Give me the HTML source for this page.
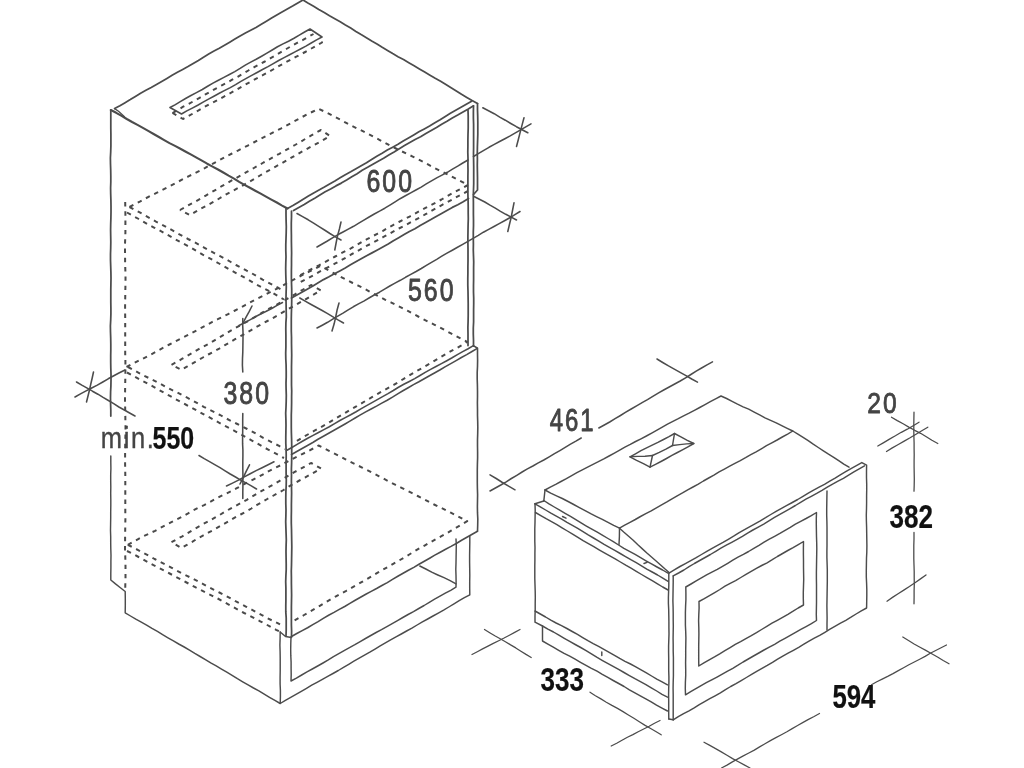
<!DOCTYPE html>
<html><head><meta charset="utf-8"><title>Installation dimensions</title>
<style>
html,body{margin:0;padding:0;background:#fff;}
body{width:1024px;height:768px;overflow:hidden;}
svg{display:block;}
.s{fill:none;stroke:#4c4c4c;stroke-width:1.6;stroke-linecap:round;stroke-linejoin:round;}
.d{fill:none;stroke:#4a4a4a;stroke-width:2.0;stroke-dasharray:4.4 4.9;stroke-linejoin:round;}
text{font-family:"Liberation Sans",sans-serif;}
</style></head><body>
<svg width="1024" height="768" viewBox="0 0 1024 768">
<defs>
<filter id="w" x="0" y="0" width="1024" height="768" filterUnits="userSpaceOnUse" color-interpolation-filters="sRGB">
<feGaussianBlur stdDeviation="0.42"/>
</filter>
<filter id="tb" x="0" y="0" width="1024" height="768" filterUnits="userSpaceOnUse" color-interpolation-filters="sRGB">
<feGaussianBlur stdDeviation="0.35"/>
</filter>
</defs>
<rect width="1024" height="768" fill="#fff"/>

<g filter="url(#w)">
<g class="d">
<path d="M172.5 113.0 L177.9 109.9 L183.2 106.7 L188.8 103.9 L194.2 100.8 L199.6 97.8 L205.0 94.7 L210.4 91.6 L215.8 88.6 L221.3 85.6 L226.8 82.8 L232.2 79.7 L237.7 76.8 L243.0 73.6 L248.4 70.5 L253.8 67.4 L259.3 64.4 L264.8 61.5 L270.2 58.4 L275.6 55.4 L280.9 52.1 L286.3 49.0 L291.7 45.9 L297.1 42.9 L302.6 40.1 L308.1 37.0 L313.5 34.0"/>
<path d="M172.5 113.0 L183.0 119.0 L188.4 116.1 L193.7 113.1 L199.0 110.1 L204.3 107.0 L209.6 104.1 L215.1 101.3 L220.5 98.5 L225.8 95.6 L231.2 92.7 L236.5 89.7 L241.8 86.6 L247.1 83.6 L252.5 80.7 L257.8 77.8 L263.2 74.9 L268.6 72.0 L273.9 69.0 L279.2 65.9 L284.5 63.0 L289.9 60.1 L295.3 57.2 L300.7 54.4 L306.1 51.5 L311.4 48.5 L316.7 45.5 L322.0 42.5 L322.0 37.0"/>
<path d="M125.2 202.0 L125.3 208.1 L125.4 214.2 L125.4 220.2 L125.4 226.3 L125.4 232.4 L125.2 238.5 L125.0 244.5 L125.0 250.6 L125.1 256.7 L125.1 262.8 L125.3 268.9 L125.5 274.9 L125.5 281.0 L125.4 287.1 L125.3 293.2 L125.2 299.2 L125.1 305.3 L125.1 311.4 L125.2 317.5 L125.2 323.6 L125.2 329.6 L125.2 335.7 L125.2 341.8 L125.2 347.9 L125.2 354.0 L125.4 360.0 L125.4 366.1 L125.4 372.2 L125.3 378.3 L125.2 384.3 L125.1 390.4 L125.0 396.5 L125.0 402.6 L125.2 408.7 L125.3 414.7 L125.4 420.8 L125.5 426.9 L125.5 433.0 L125.3 439.0 L125.2 445.1 L125.1 451.2 L125.1 457.3 L125.1 463.4 L125.2 469.4 L125.3 475.5 L125.3 481.6 L125.3 487.7 L125.3 493.8 L125.3 499.8 L125.3 505.9 L125.3 512.0 L125.4 518.1 L125.3 524.1 L125.2 530.2 L125.1 536.3 L125.1 542.4 L125.0 548.5 L125.2 554.5 L125.4 560.6 L125.5 566.7 L125.5 572.8 L125.5 578.8 L125.3 584.9 L125.2 591.0"/>
<path d="M129.5 207.0 L134.9 204.2 L140.3 201.4 L145.6 198.4 L151.0 195.6 L156.5 192.9 L161.9 190.1 L167.3 187.4 L172.7 184.6 L178.1 181.7 L183.5 178.9 L188.9 176.2 L194.3 173.4 L199.8 170.7 L205.2 167.9 L210.5 164.9 L215.9 162.1 L221.2 159.2 L226.6 156.2 L232.0 153.5 L237.5 150.8 L242.9 148.0 L248.3 145.3 L253.7 142.5 L259.1 139.6 L264.5 136.9 L269.9 134.1 L275.3 131.3 L280.8 128.6 L286.2 125.7 L291.5 122.8 L296.9 119.9 L302.2 117.0 L307.6 114.1 L313.1 111.5 L318.5 108.8 L324.1 111.4 L329.7 114.2 L335.2 117.1 L340.7 119.9 L346.2 122.9 L351.7 125.8 L357.3 128.5 L362.8 131.2 L368.4 134.1 L373.9 137.0 L379.4 139.8 L384.9 142.8 L390.3 145.7 L395.9 148.5 L401.5 151.2 L407.1 153.9 L412.7 156.6 L418.3 159.4 L423.8 162.2 L429.3 165.2 L434.7 168.1 L440.3 170.9 L445.9 173.6 L451.4 176.4 L457.0 179.3 L462.5 182.1 L468.0 185.0"/>
<path d="M129.5 207.0 L134.9 209.8 L140.2 212.7 L145.5 215.7 L150.8 218.7 L156.0 221.6 L161.5 224.4 L166.8 227.2 L172.1 230.2 L177.4 233.2 L182.7 236.1 L188.0 239.0 L193.5 241.7 L198.8 244.6 L204.1 247.6 L209.4 250.5 L214.7 253.3 L220.1 256.1 L225.5 258.9 L230.8 262.0 L236.0 265.0 L241.4 267.8 L246.7 270.7 L252.1 273.5 L257.4 276.5 L262.6 279.6 L267.9 282.5 L273.3 285.3 L278.7 288.1 L284.0 291.0"/>
<path d="M127.0 212.5 L132.4 215.5 L137.8 218.5 L143.2 221.6 L148.6 224.7 L154.0 227.6 L159.5 230.4 L165.0 233.4 L170.3 236.4 L175.7 239.5 L181.2 242.4 L186.6 245.3 L192.1 248.3 L197.4 251.4 L202.7 254.6 L208.2 257.5 L213.7 260.4 L219.0 263.5 L224.4 266.6 L229.8 269.7 L235.2 272.6 L240.7 275.5 L246.1 278.5 L251.5 281.6 L256.8 284.7 L262.3 287.5 L267.8 290.4 L273.3 293.3 L278.6 296.5 L284.0 299.5"/>
<path d="M468.0 185.0 L462.7 187.9 L457.3 190.7 L452.0 193.4 L446.7 196.4 L441.5 199.5 L436.2 202.4 L430.9 205.1 L425.5 207.9 L420.2 210.7 L414.9 213.7 L409.6 216.6 L404.2 219.3 L398.9 222.0 L393.5 224.8 L388.2 227.7 L383.0 230.8 L377.7 233.6 L372.3 236.4 L367.0 239.2 L361.7 242.1 L356.5 245.2 L351.3 248.2 L345.9 250.9 L340.5 253.6 L335.2 256.5 L329.9 259.4 L324.6 262.3 L319.3 265.1 L313.8 267.7 L308.5 270.6 L303.3 273.5 L298.0 276.5"/>
<path d="M468.0 191.0 L462.7 193.8 L457.3 196.7 L452.1 199.7 L446.7 202.5 L441.4 205.3 L436.1 208.3 L430.8 211.2 L425.6 214.2 L420.3 217.3 L415.0 220.1 L409.6 222.9 L404.3 225.8 L398.9 228.5 L393.6 231.4 L388.3 234.4 L383.0 237.2 L377.7 240.1 L372.4 243.0 L367.0 245.7 L361.7 248.6 L356.4 251.6 L351.1 254.5 L345.9 257.6 L340.6 260.6 L335.3 263.4 L329.9 266.3 L324.6 269.1 L319.2 271.9 L314.0 274.9 L308.7 277.8 L303.3 280.6 L298.0 283.5"/>
<path d="M180.0 210.0 L185.2 207.1 L190.5 204.1 L195.8 201.3 L201.0 198.4 L206.2 195.3 L211.4 192.3 L216.6 189.3 L221.7 186.2 L227.0 183.3 L232.2 180.2 L237.4 177.3 L242.6 174.4 L247.8 171.4 L253.1 168.5 L258.3 165.5 L263.5 162.5 L268.8 159.6 L274.0 156.6 L279.3 153.8 L284.5 150.9 L289.8 147.9 L295.0 145.0 L300.2 142.0 L305.3 138.9 L310.5 135.9 L315.7 132.9 L321.0 130.0 L330.0 136.0 L324.7 139.1 L319.3 142.2 L313.9 145.1 L308.4 148.1 L303.0 151.0 L297.6 154.1 L292.3 157.2 L286.9 160.3 L281.6 163.4 L276.1 166.3 L270.7 169.4 L265.3 172.3 L260.0 175.5 L254.7 178.7 L249.3 181.8 L244.0 184.8 L238.5 187.7 L233.1 190.7 L227.6 193.6 L222.3 196.7 L217.0 199.9 L211.6 202.9 L206.2 205.9 L200.7 208.8 L195.3 211.8 L190.0 215.0 L180.0 210.0"/>
<path d="M126.5 367.0 L131.9 364.2 L137.3 361.4 L142.7 358.7 L148.1 356.0 L153.5 353.1 L158.8 350.2 L164.1 347.3 L169.4 344.5 L174.8 341.6 L180.2 338.9 L185.6 336.2 L191.0 333.4 L196.4 330.5 L201.7 327.7 L207.1 324.8 L212.4 321.9 L217.8 319.2 L223.3 316.5 L228.7 313.8 L234.1 311.0 L239.5 308.2 L244.8 305.3 L250.1 302.4 L255.5 299.6 L260.9 296.9 L266.3 294.1 L271.7 291.4 L277.1 288.6 L282.4 285.7 L287.7 282.7 L293.1 279.9 L298.4 277.1 L303.8 274.3 L309.2 271.6 L314.7 268.9 L320.0 266.0 L325.5 268.7 L330.9 271.6 L336.3 274.5 L341.7 277.4 L347.2 280.2 L352.7 283.0 L358.2 285.6 L363.7 288.4 L369.1 291.3 L374.5 294.1 L379.9 297.0 L385.4 299.8 L390.9 302.4 L396.4 305.2 L401.9 307.9 L407.4 310.7 L412.7 313.6 L418.2 316.5 L423.6 319.3 L429.1 322.1 L434.6 324.8 L440.1 327.6 L445.5 330.5 L450.9 333.4 L456.3 336.3 L461.7 339.1 L467.2 341.8 L462.1 345.0 L456.8 348.0 L451.4 350.9 L446.1 353.9 L440.9 357.0 L435.6 360.1 L430.4 363.2 L425.1 366.3 L419.8 369.3 L414.5 372.3 L409.3 375.5 L404.1 378.6 L398.9 381.8 L393.7 384.9 L388.3 387.9 L383.0 390.8 L377.7 393.8 L372.4 396.9 L367.2 399.9 L361.9 403.1 L356.7 406.2 L351.4 409.2 L346.1 412.3 L340.9 415.4 L335.7 418.5 L330.5 421.7 L325.2 424.8 L319.9 427.7 L314.5 430.7 L309.2 433.7 L303.9 436.7 L298.7 439.9 L293.5 443.0"/>
<path d="M128.0 367.0 L133.4 369.9 L138.7 372.8 L144.1 375.7 L149.6 378.4 L155.1 381.1 L160.5 383.9 L165.9 386.9 L171.3 389.7 L176.8 392.3 L182.2 395.1 L187.6 397.9 L193.0 400.8 L198.4 403.8 L203.7 406.8 L209.1 409.6 L214.6 412.2 L220.1 415.0 L225.4 418.0 L230.8 420.8 L236.3 423.5 L241.7 426.3 L247.2 429.0 L252.7 431.8 L258.0 434.8 L263.2 437.9 L268.7 440.7 L274.2 443.4 L279.6 446.2 L285.0 449.0"/>
<path d="M127.0 372.5 L132.4 375.4 L137.8 378.4 L143.3 381.3 L148.7 384.1 L154.1 387.1 L159.5 390.2 L164.9 393.2 L170.3 396.1 L175.7 399.2 L181.1 402.1 L186.5 405.0 L192.0 407.9 L197.4 410.8 L202.8 413.8 L208.2 416.7 L213.6 419.6 L219.0 422.7 L224.4 425.6 L229.9 428.4 L235.3 431.3 L240.7 434.3 L246.1 437.3 L251.5 440.3 L256.9 443.3 L262.3 446.4 L267.7 449.3 L273.2 452.1 L278.6 455.1 L284.0 458.0"/>
<path d="M171.5 364.8 L177.0 361.8 L182.3 358.7 L187.6 355.6 L193.0 352.5 L198.3 349.4 L203.8 346.5 L209.2 343.5 L214.5 340.3 L219.8 337.2 L225.1 334.0 L230.4 330.8 L235.8 327.8 L241.2 324.8 L246.6 321.8 L252.0 318.7 L257.3 315.6 L262.6 312.4 L268.0 309.4 L273.4 306.4 L278.9 303.5 L284.3 300.5 L289.6 297.4 L295.0 294.3 L300.3 291.2 L305.6 288.1 L311.0 285.0 L321.0 290.5 L315.6 293.4 L310.2 296.5 L304.9 299.7 L299.6 302.7 L294.2 305.7 L288.8 308.8 L283.5 311.9 L278.2 315.0 L272.8 318.1 L267.4 321.0 L261.9 323.9 L256.5 326.9 L251.2 330.1 L245.9 333.2 L240.5 336.2 L235.1 339.2 L229.8 342.3 L224.5 345.4 L219.2 348.6 L213.8 351.6 L208.3 354.5 L202.9 357.5 L197.6 360.5 L192.2 363.6 L186.9 366.7 L181.5 369.8 L171.5 364.8"/>
<path d="M127.8 544.8 L133.2 541.9 L138.6 538.9 L144.0 536.0 L149.6 533.4 L155.1 530.8 L160.5 527.8 L165.9 524.9 L171.4 522.1 L176.9 519.3 L182.3 516.6 L187.7 513.6 L193.0 510.5 L198.5 507.7 L204.1 505.1 L209.5 502.2 L214.9 499.2 L220.3 496.4 L225.9 493.8 L231.4 491.1 L236.8 488.2 L242.2 485.2 L247.6 482.3 L253.1 479.6 L258.6 476.8 L264.0 473.8 L269.3 470.8 L274.8 468.1 L280.4 465.4 L285.8 462.5 L291.2 459.6 L296.7 456.8 L302.2 454.1 L307.7 451.4 L313.1 448.5 L318.5 445.5 L324.0 448.3 L329.5 451.1 L335.0 453.9 L340.5 456.7 L346.0 459.6 L351.5 462.4 L357.1 465.1 L362.6 467.8 L368.2 470.6 L373.7 473.4 L379.1 476.3 L384.6 479.2 L390.1 482.1 L395.6 484.9 L401.1 487.6 L406.7 490.4 L412.2 493.2 L417.7 496.0 L423.2 498.8 L428.6 501.7 L434.1 504.5 L439.7 507.2 L445.3 509.9 L450.8 512.7 L456.3 515.5 L461.8 518.4 L467.2 521.2 L462.0 524.3 L456.7 527.3 L451.5 530.4 L446.3 533.5 L441.0 536.4 L435.6 539.3 L430.3 542.3 L425.0 545.3 L419.7 548.2 L414.5 551.3 L409.3 554.5 L404.1 557.6 L398.9 560.6 L393.6 563.6 L388.3 566.7 L383.0 569.6 L377.7 572.6 L372.5 575.7 L367.3 578.8 L362.0 581.9 L356.8 584.8 L351.5 587.8 L346.2 590.8 L340.8 593.7 L335.5 596.6 L330.2 599.6 L325.0 602.8 L319.8 605.9 L314.6 608.9 L309.3 612.0 L304.1 615.0 L298.8 618.0 L293.5 621.0"/>
<path d="M127.8 544.8 L133.2 547.5 L138.6 550.3 L143.9 553.2 L149.3 556.0 L154.6 559.0 L160.0 561.8 L165.4 564.5 L170.8 567.3 L176.2 570.3 L181.5 573.1 L187.0 575.8 L192.4 578.5 L197.8 581.3 L203.2 584.1 L208.6 587.0 L214.0 589.8 L219.4 592.5 L224.8 595.3 L230.2 598.2 L235.5 601.2 L240.9 604.0 L246.3 606.8 L251.7 609.6 L257.0 612.5 L262.4 615.4 L267.7 618.3 L273.2 621.0 L278.6 623.7 L284.0 626.5"/>
<path d="M127.0 551.0 L132.4 553.6 L137.7 556.5 L143.0 559.4 L148.3 562.3 L153.5 565.2 L158.9 568.0 L164.3 570.7 L169.6 573.5 L175.0 576.3 L180.3 579.1 L185.6 582.0 L190.9 584.8 L196.2 587.7 L201.6 590.4 L207.0 593.1 L212.3 595.8 L217.7 598.5 L223.0 601.4 L228.3 604.3 L233.6 607.2 L238.8 610.1 L244.1 613.0 L249.5 615.7 L254.8 618.5 L260.2 621.3 L265.5 624.0 L270.8 627.0 L276.1 629.8 L281.5 632.5"/>
<path d="M171.5 542.2 L176.9 539.2 L182.3 536.3 L187.6 533.1 L192.9 529.9 L198.2 526.8 L203.6 523.8 L209.1 520.9 L214.4 517.9 L219.8 514.9 L225.1 511.7 L230.5 508.6 L235.9 505.7 L241.3 502.8 L246.8 499.8 L252.0 496.6 L257.3 493.5 L262.7 490.4 L268.1 487.4 L273.5 484.5 L278.8 481.3 L284.1 478.2 L289.4 475.0 L294.8 471.9 L300.2 469.1 L305.6 466.0 L311.0 463.0 L321.0 468.5 L315.6 471.6 L310.3 474.6 L304.9 477.6 L299.4 480.5 L294.0 483.5 L288.7 486.7 L283.5 490.0 L278.1 493.0 L272.7 496.0 L267.3 499.0 L262.0 502.1 L256.6 505.2 L251.4 508.5 L246.1 511.6 L240.6 514.5 L235.1 517.4 L229.8 520.5 L224.5 523.6 L219.1 526.7 L213.8 529.8 L208.3 532.7 L202.9 535.6 L197.4 538.6 L192.2 541.8 L186.9 544.9 L181.5 548.0 L171.5 542.2"/>
</g>
<g class="s">
<path d="M114.6 108.6 L119.9 105.7 L125.1 102.7 L130.3 99.6 L135.4 96.4 L140.6 93.2 L145.9 90.3 L151.2 87.5 L156.5 84.5 L161.7 81.5 L166.9 78.4 L172.1 75.3 L177.4 72.3 L182.7 69.5 L188.0 66.6 L193.2 63.5 L198.4 60.4 L203.5 57.2 L208.7 54.1 L214.0 51.1 L219.3 48.3 L224.5 45.3 L229.7 42.2 L234.9 39.1 L240.1 36.0 L245.4 33.1 L250.7 30.3 L256.0 27.4 L261.3 24.3 L266.4 21.3 L271.6 18.1 L276.8 14.9 L282.0 12.0 L287.3 9.1 L292.6 6.1 L297.8 3.0 L303.0 0.0" stroke-width="1.75"/>
<path d="M303.0 0.0 L308.3 3.2 L313.6 6.2 L318.8 9.4 L324.2 12.5 L329.5 15.7 L334.8 18.7 L340.2 21.7 L345.4 24.9 L350.7 28.0 L355.9 31.4 L361.1 34.6 L366.4 37.7 L371.7 40.9 L377.0 43.9 L382.2 47.2 L387.5 50.4 L392.7 53.6 L398.0 56.7 L403.5 59.6 L408.8 62.7 L414.1 65.7 L419.4 68.9 L424.7 72.1 L430.0 75.2 L435.2 78.3 L440.6 81.3 L445.9 84.5 L451.1 87.7 L456.3 91.0 L461.5 94.3 L466.8 97.4 L472.1 100.5 L477.5 103.5" stroke-width="1.75"/>
<path d="M287.5 208.5 L292.9 205.6 L298.0 202.4 L303.2 199.2 L308.4 196.1 L313.7 192.9 L319.0 190.1 L324.4 187.1 L329.6 184.0 L334.9 181.0 L340.1 177.8 L345.3 174.7 L350.7 171.8 L356.0 168.8 L361.2 165.8 L366.5 162.8 L371.6 159.4 L376.8 156.2 L382.1 153.2 L387.3 150.1 L392.7 147.2 L398.0 144.3 L403.2 141.1 L408.5 138.0 L413.7 134.9 L418.9 131.8 L424.3 128.9 L429.6 126.0 L434.9 122.8 L440.1 119.8 L445.3 116.5 L450.4 113.3 L455.7 110.3 L461.0 107.3 L466.3 104.3 L471.6 101.2" stroke-width="1.75"/>
<path d="M293.5 210.5 L298.8 207.4 L304.2 204.5 L309.4 201.3 L314.7 198.2 L319.9 195.0 L325.2 191.8 L330.6 189.0 L335.9 185.9 L341.3 183.1 L346.6 180.0 L351.8 176.8 L357.1 173.7 L362.2 170.3 L367.6 167.3 L372.9 164.2 L378.2 161.2 L383.6 158.3 L388.8 155.1 L394.1 152.0 L399.3 148.7 L404.5 145.6 L409.8 142.5 L415.1 139.5 L420.6 136.7 L425.9 133.6 L431.2 130.6 L436.5 127.5 L441.7 124.2 L447.0 121.2 L452.3 118.0 L457.7 115.1 L463.0 112.1 L468.3 109.0 L473.5 105.8" stroke-width="1.75"/>
<path d="M110.8 110.0 L116.2 112.8 L121.6 115.8 L126.8 119.0 L132.1 122.0 L137.5 124.9 L142.9 127.9 L148.2 130.9 L153.6 134.0 L158.9 137.0 L164.2 140.1 L169.5 143.1 L175.0 145.9 L180.4 148.8 L185.8 151.7 L191.2 154.7 L196.5 157.6 L201.9 160.7 L207.2 163.7 L212.6 166.6 L218.0 169.5 L223.3 172.5 L228.6 175.6 L234.0 178.6 L239.2 181.8 L244.5 184.9 L249.9 187.8 L255.3 190.7 L260.7 193.6 L266.0 196.6 L271.4 199.6 L276.8 202.5 L282.1 205.6 L287.5 208.5" stroke-width="2.1"/>
<path d="M114.6 108.6 L118.5 111.3 L124.5 116.8" stroke-width="1.3"/>
<path d="M110.8 110.0 L110.8 116.0 L110.8 122.0 L110.8 128.0 L110.9 134.0 L110.9 140.0 L110.9 146.0 L110.7 152.0 L110.4 158.0 L110.5 164.0 L110.7 170.0 L110.8 176.0 L110.8 182.0 L110.6 188.0 L110.7 194.0 L110.9 200.0 L111.0 206.0 L111.0 212.0 L110.9 218.0 L110.7 224.0 L110.6 230.0 L110.7 236.0 L110.8 242.0 L110.7 248.0 L110.5 254.0 L110.5 260.0 L110.7 266.0 L110.9 272.0 L111.0 278.0 L110.9 284.0 L110.8 290.0 L110.8 296.0 L110.8 302.0 L110.9 308.0 L110.9 314.0 L110.7 320.0 L110.4 326.0 L110.5 332.0 L110.7 338.0 L110.8 344.0 L110.8 350.0 L110.7 356.0 L110.7 362.0 L110.8 368.0 L111.0 374.0 L111.0 380.0 L110.9 386.0 L110.6 392.0 L110.5 398.0 L110.6 404.0 L110.8 410.0 L110.8 416.0" stroke-width="1.75"/>
<path d="M110.8 456.0 L110.8 462.2 L110.9 468.4 L110.7 474.6 L110.7 480.8 L110.8 487.0 L110.7 493.2 L110.8 499.4 L110.8 505.6 L110.7 511.8 L110.7 518.0 L110.6 524.2 L110.5 530.4 L110.7 536.6 L110.7 542.8 L110.8 549.0 L111.0 555.2 L110.9 561.4 L110.9 567.6 L110.8 573.8 L110.8 580.0 L115.5 583.9 L120.4 587.7 L125.2 591.5 L125.3 598.6 L125.3 605.7 L125.2 612.8 L130.5 616.0 L135.8 619.2 L141.3 622.2 L146.6 625.2 L152.0 628.4 L157.4 631.4 L162.6 634.7 L168.0 637.8 L173.4 640.9 L178.7 644.0 L184.2 647.0 L189.5 650.1 L194.8 653.4 L200.1 656.5 L205.4 659.7 L210.7 662.9 L216.2 665.9 L221.5 669.1 L226.8 672.2 L232.1 675.3 L237.4 678.7 L242.7 681.8 L248.1 684.9 L253.5 688.0 L258.9 690.9 L264.2 694.1 L269.5 697.3 L274.9 700.4 L280.2 703.5" stroke-width="1.45"/>
<path d="M286.0 208.5 L286.0 214.5 L286.1 220.5 L286.3 226.6 L286.2 232.6 L286.0 238.6 L285.8 244.6 L285.8 250.6 L286.0 256.7 L285.8 262.7 L285.7 268.7 L285.8 274.7 L286.0 280.8 L286.3 286.8 L286.1 292.8 L286.0 298.8 L286.1 304.8 L286.2 310.9 L286.3 316.9 L285.9 322.9 L285.8 328.9 L285.9 334.9 L285.9 341.0 L285.9 347.0 L285.7 353.0 L285.8 359.0 L286.1 365.0 L286.2 371.1 L286.2 377.1 L286.0 383.1 L286.1 389.1 L286.3 395.2 L286.2 401.2 L286.0 407.2 L285.7 413.2 L285.9 419.2 L286.0 425.3 L285.9 431.3 L285.8 437.3 L285.8 443.3 L286.1 449.3 L286.2 455.4 L286.1 461.4 L286.1 467.4 L286.1 473.4 L286.3 479.5 L286.2 485.5 L285.9 491.5 L285.8 497.5 L285.8 503.5 L286.0 509.6 L285.9 515.6 L285.7 521.6 L285.9 527.6 L286.1 533.6 L286.3 539.7 L286.1 545.7 L286.0 551.7 L286.1 557.7 L286.2 563.7 L286.2 569.8 L285.9 575.8 L285.7 581.8 L285.9 587.8 L285.9 593.9 L285.9 599.9 L285.8 605.9 L285.8 611.9 L286.2 617.9 L286.2 624.0 L286.2 630.0 L286.0 636.0" stroke-width="1.75"/>
<path d="M291.5 211.0 L291.5 217.0 L291.3 223.0 L291.3 229.0 L291.4 235.0 L291.4 241.0 L291.5 247.0 L291.6 253.0 L291.5 259.0 L291.5 265.0 L291.4 271.0 L291.4 277.0 L291.5 283.0 L291.7 289.0 L291.7 295.0 L291.7 301.0 L291.6 307.0 L291.4 313.0 L291.3 319.0 L291.3 325.0 L291.3 331.0 L291.5 337.0 L291.5 343.0 L291.6 349.0 L291.7 355.0 L291.6 361.0 L291.5 367.0 L291.5 373.0 L291.5 379.0 L291.5 385.0 L291.7 391.0 L291.6 397.0 L291.6 403.0 L291.5 409.0 L291.3 415.0 L291.3 421.0 L291.3 427.0 L291.4 433.0 L291.6 439.0 L291.7 445.0 L291.7 451.0 L291.7 457.0 L291.6 463.0 L291.4 469.0 L291.5 475.0 L291.4 481.0 L291.5 487.0 L291.6 493.0 L291.5 499.0 L291.4 505.0 L291.4 511.0 L291.3 517.0 L291.3 523.0 L291.5 529.0 L291.6 535.0 L291.7 541.0 L291.8 547.0 L291.7 553.0 L291.6 559.0 L291.5 565.0 L291.3 571.0 L291.4 577.0 L291.4 583.0 L291.5 589.0 L291.6 595.0 L291.5 601.0 L291.4 607.0 L291.4 613.0 L291.4 619.0 L291.4 625.0 L291.6 631.0 L291.5 637.0" stroke-width="1.75"/>
<path d="M468.0 110.0 L468.2 116.0 L468.2 122.1 L468.2 128.1 L468.0 134.2 L467.9 140.2 L467.9 146.2 L467.8 152.3 L468.0 158.3 L467.9 164.3 L468.0 170.4 L467.9 176.4 L467.9 182.5 L467.9 188.5 L467.9 194.5 L468.1 200.6 L468.2 206.6 L468.2 212.7 L468.3 218.7 L468.1 224.7 L468.0 230.8 L467.9 236.8 L467.9 242.8 L468.0 248.9 L468.0 254.9 L468.0 261.0 L467.9 267.0 L467.9 273.0 L467.8 279.1 L467.8 285.1 L468.0 291.2 L468.1 297.2 L468.2 303.2 L468.2 309.3 L468.2 315.3 L468.1 321.3 L467.9 327.4 L468.0 333.4 L468.0 339.5 L468.0 345.5" stroke-width="1.75"/>
<path d="M473.5 106.0 L473.4 112.0 L473.4 118.0 L473.6 124.0 L473.6 130.0 L473.6 136.0 L473.6 142.0 L473.6 148.0 L473.5 154.0 L473.6 160.0 L473.7 166.0 L473.7 172.0 L473.7 178.0 L473.7 184.0 L473.5 190.0 L473.3 196.0 L473.4 202.0 L473.4 208.0 L473.4 214.0 L473.5 220.0 L473.5 226.0 L473.3 232.0 L473.3 238.0 L473.4 244.0 L473.3 250.0 L473.5 256.0 L473.7 262.0 L473.6 268.0 L473.6 274.0 L473.6 280.0 L473.5 286.0 L473.5 292.0 L473.7 298.0 L473.7 304.0 L473.6 310.0 L473.6 316.0 L473.6 322.0 L473.3 328.0 L473.3 334.0 L473.5 340.0 L473.5 346.0" stroke-width="1.75"/>
<path d="M477.5 103.5 L477.5 109.7 L477.7 115.9 L477.8 122.0 L477.8 128.2 L477.8 134.4 L477.6 140.6 L477.4 146.8 L477.3 152.9 L477.4 159.1 L477.3 165.3 L477.4 171.5 L477.5 177.6 L477.5 183.8 L477.5 190.0 L473.5 194.5" stroke-width="1.75"/>
<path d="M291.5 298.0 L296.9 295.1 L302.3 292.1 L307.6 288.9 L312.9 285.9 L318.2 282.7 L323.5 279.6 L329.0 276.8 L334.4 273.8 L339.8 270.9 L345.2 267.9 L350.5 264.8 L355.8 261.8 L361.2 258.7 L366.6 255.7 L372.0 252.9 L377.4 250.0 L382.8 247.0 L388.2 244.0 L393.4 240.7 L398.7 237.7 L404.1 234.5 L409.4 231.5 L414.9 228.7 L420.2 225.6 L425.6 222.6 L430.9 219.6 L436.2 216.4 L441.6 213.4 L446.9 210.4 L452.3 207.4 L457.8 204.7 L463.2 201.7 L468.5 198.5" stroke-width="1.75"/>
<path d="M286.5 450.5 L291.9 447.5 L297.1 444.4 L302.4 441.3 L307.7 438.3 L313.1 435.4 L318.5 432.5 L323.9 429.6 L329.3 426.7 L334.6 423.6 L339.9 420.5 L345.3 417.6 L350.7 414.8 L356.1 411.8 L361.3 408.6 L366.6 405.6 L372.0 402.6 L377.3 399.6 L382.6 396.6 L388.0 393.6 L393.3 390.5 L398.5 387.3 L403.8 384.3 L409.3 381.5 L414.7 378.6 L420.0 375.5 L425.2 372.4 L430.6 369.4 L436.0 366.5 L441.4 363.6 L446.8 360.7 L452.1 357.8 L457.4 354.6 L462.7 351.6 L468.1 348.7 L473.4 345.6 L477.5 348.2 L477.5 354.3 L477.6 360.4 L477.5 366.5 L477.2 372.6 L477.2 378.7 L477.4 384.8 L477.5 390.9 L477.5 397.0 L477.4 403.1 L477.5 409.2 L477.5 415.3 L477.7 421.4 L477.8 427.5 L477.7 433.6 L477.5 439.7 L477.5 445.8 L477.6 451.9 L477.6 458.0 L477.4 464.1 L477.3 470.2 L477.3 476.3 L477.3 482.4 L477.4 488.5 L477.6 494.6 L477.5 500.7 L477.4 506.8 L477.5 512.9 L477.8 519.0 L477.7 525.1 L477.5 531.2" stroke-width="1.6"/>
<path d="M291.5 454.5 L296.8 451.5 L302.1 448.5 L307.5 445.5 L312.8 442.5 L318.0 439.3 L323.4 436.3 L328.7 433.3 L334.0 430.3 L339.3 427.3 L344.6 424.2 L349.9 421.1 L355.1 418.0 L360.4 414.9 L365.7 411.9 L371.1 409.0 L376.5 406.1 L381.8 403.1 L387.2 400.2 L392.5 397.1 L397.7 393.9 L402.9 390.8 L408.2 387.7 L413.5 384.6 L418.9 381.7 L424.2 378.7 L429.5 375.7 L434.9 372.7 L440.2 369.7 L445.4 366.6 L450.8 363.6 L456.1 360.6 L461.4 357.5 L466.7 354.6 L472.0 351.5 L477.3 348.4" stroke-width="1.6"/>
<path d="M291.5 636.5 L296.8 633.5 L302.2 630.6 L307.6 627.7 L312.8 624.6 L318.1 621.6 L323.3 618.4 L328.6 615.3 L334.0 612.4 L339.3 609.4 L344.7 606.5 L349.9 603.4 L355.2 600.3 L360.5 597.3 L365.8 594.2 L371.2 591.4 L376.6 588.5 L381.9 585.5 L387.3 582.6 L392.5 579.4 L397.8 576.3 L403.1 573.3 L408.4 570.3 L413.8 567.4 L419.0 564.3 L424.3 561.3 L429.6 558.2 L434.8 555.1 L440.2 552.2 L445.6 549.2 L451.0 546.4 L456.3 543.5 L461.6 540.3 L466.9 537.3 L472.2 534.2 L477.5 531.2" stroke-width="1.6"/>
<path d="M280.2 632.0 L280.1 638.5 L279.9 645.0 L280.1 651.5 L280.2 658.0 L280.2 664.5 L280.2 671.0 L280.1 677.5 L280.1 684.0 L280.4 690.5 L280.4 697.0 L280.2 703.5 L285.4 700.3 L290.7 697.4 L296.0 694.4 L301.3 691.3 L306.5 688.3 L311.7 685.2 L317.0 682.3 L322.4 679.3 L327.7 676.4 L333.0 673.5 L338.3 670.5 L343.5 667.4 L348.7 664.3 L353.9 661.2 L359.2 658.2 L364.5 655.2 L369.8 652.2 L375.0 649.1 L380.2 645.9 L385.4 642.9 L390.6 639.8 L396.0 636.9 L401.3 634.0 L406.6 631.0 L411.9 628.1 L417.1 625.0 L422.4 621.9 L427.7 619.0 L433.0 616.0 L438.3 613.1 L443.6 610.1 L448.8 607.0 L454.0 603.9 L459.2 600.7 L464.4 597.7 L469.8 594.8 L469.7 588.2 L469.7 581.7 L469.8 575.2 L469.7 568.6 L469.6 562.1 L469.6 555.6 L469.7 549.1 L469.8 542.5 L469.8 536.0" stroke-width="1.45"/>
<path d="M291.0 637.0 L290.8 643.3 L290.7 649.6 L290.8 655.9 L291.1 662.1 L291.1 668.4 L291.2 674.7 L291.0 681.0 L296.4 678.1 L301.7 675.0 L307.0 671.9 L312.3 669.0 L317.7 666.0 L323.0 663.0 L328.3 659.9 L333.5 656.7 L338.8 653.7 L344.1 650.6 L349.5 647.7 L354.9 644.7 L360.2 641.6 L365.5 638.5 L370.8 635.5 L376.1 632.5 L381.5 629.7 L386.9 626.7 L392.2 623.7 L397.5 620.6 L402.8 617.5 L408.1 614.5 L413.5 611.6 L418.8 608.5 L424.1 605.5 L429.3 602.3 L434.6 599.2 L440.0 596.2 L445.3 593.2 L450.7 590.3 L456.0 587.2 L456.1 581.2 L456.0 575.2 L455.8 569.2 L456.0 563.1 L456.1 557.1 L456.2 551.1 L456.3 545.0 L456.0 539.0" stroke-width="1.45"/>
<path d="M419.8 566.0 L425.8 569.0 L431.7 572.2 L437.8 575.0 L444.0 577.7 L450.1 580.6 L456.0 583.8" stroke-width="1.45"/>
<path d="M280.2 632.0 L285.5 636.5 L291.5 637.5" stroke-width="1.45"/>
<path d="M170.0 107.5 L175.4 104.6 L180.7 101.4 L186.0 98.2 L191.4 95.2 L196.9 92.4 L202.3 89.5 L207.6 86.3 L213.0 83.1 L218.4 80.2 L223.9 77.4 L229.4 74.5 L234.8 71.6 L240.1 68.4 L245.3 65.1 L250.7 62.1 L256.2 59.3 L261.6 56.2 L266.9 53.1 L272.2 50.0 L277.5 46.8 L283.0 43.9 L288.5 41.2 L294.0 38.3 L299.3 35.1 L304.6 32.0 L310.0 29.0 L316.0 33.0 L322.0 37.0 L316.6 39.9 L311.2 43.0 L305.9 46.1 L300.5 49.0 L295.0 51.9 L289.6 54.8 L284.1 57.6 L278.7 60.5 L273.3 63.6 L268.0 66.6 L262.5 69.5 L257.1 72.5 L251.7 75.4 L246.3 78.4 L240.9 81.4 L235.6 84.6 L230.3 87.6 L224.8 90.4 L219.3 93.3 L213.9 96.2 L208.5 99.1 L203.1 102.1 L197.7 105.2 L192.3 108.1 L186.8 110.9 L181.5 114.0 L170.0 107.5" stroke-width="1.6"/>
<path d="M239.0 325.5 L244.5 322.8 L249.9 319.9 L255.3 316.8 L260.7 314.0 L266.3 311.3 L271.7 308.5 L277.1 305.4 L282.5 302.5" stroke-width="1.55"/>
<path d="M242.8 318.5 L242.7 325.2 L243.0 331.9 L243.0 338.6 L242.9 345.2 L242.8 351.9 L242.5 358.6 L242.4 365.3 L242.8 372.0" stroke-width="1.55"/>
<path d="M242.8 413.5 L242.7 419.6 L242.7 425.6 L242.7 431.7 L242.6 437.8 L242.6 443.9 L242.9 449.9 L242.9 456.0 L242.8 462.1 L242.8 468.1 L242.9 474.2 L242.9 480.3 L242.9 486.4 L242.8 492.4 L242.8 498.5" stroke-width="1.55"/>
<path d="M252.0 306.0 L249.0 311.9 L245.8 317.7 L242.8 323.5" stroke-width="1.55"/>
<path d="M226.5 486.0 L232.5 483.1 L238.5 480.1 L244.3 476.9 L250.2 473.7 L256.1 470.6 L262.1 467.7 L268.1 464.8 L274.0 461.8" stroke-width="1.55"/>
<path d="M249.5 464.8 L246.3 471.1 L243.2 477.6 L240.0 484.0" stroke-width="1.55"/>
<path d="M76.5 382.0 L81.8 385.1 L87.2 388.1 L92.5 391.2 L97.9 394.2 L103.1 397.4 L108.4 400.5 L113.7 403.7 L118.9 407.0 L124.3 410.0 L129.6 413.0 L135.0 416.0" stroke-width="1.55"/>
<path d="M199.0 455.5 L204.2 458.6 L209.5 461.6 L214.7 464.6 L220.0 467.6 L225.1 470.8 L230.2 474.0 L235.5 477.0 L240.7 480.1 L246.0 482.9 L251.3 485.9 L256.5 489.0" stroke-width="1.55"/>
<path d="M75.0 397.0 L80.5 393.9 L86.1 390.9 L91.7 388.0 L97.3 385.1 L102.8 382.0 L108.2 378.8 L113.8 375.8 L119.4 372.8 L125.0 370.0" stroke-width="1.55"/>
<path d="M93.5 372.0 L92.2 378.0 L90.8 384.0 L89.5 390.0 L88.0 396.0 L86.5 402.0" stroke-width="1.55"/>
<path d="M317.0 247.0 L322.2 244.0 L327.4 241.0 L332.5 237.9 L337.7 234.8 L343.0 232.0 L348.3 229.1 L353.6 226.3 L358.8 223.2 L363.9 220.1 L369.1 217.0 L374.3 214.0 L379.6 211.1 L384.8 208.2 L389.9 205.1 L395.1 201.9 L400.1 198.7 L405.4 195.8 L410.7 192.9 L415.9 190.0 L421.2 187.1 L426.3 183.9 L431.5 180.9 L436.7 177.9 L442.0 175.1 L447.3 172.3 L452.5 169.2 L457.7 166.2 L462.8 163.0 L468.0 160.0" stroke-width="1.55"/>
<path d="M473.5 156.5 L478.7 153.4 L483.8 150.3 L489.0 147.3 L494.3 144.4 L499.6 141.5 L504.9 138.7 L510.2 135.9 L515.4 132.9 L520.6 129.8 L525.8 126.8 L531.0 123.8" stroke-width="1.55"/>
<path d="M297.0 213.5 L302.6 216.7 L308.2 219.8 L313.6 223.2 L319.1 226.6 L324.5 230.0 L329.9 233.5 L335.4 236.8 L341.0 240.0" stroke-width="1.55"/>
<path d="M341.0 222.0 L339.4 229.0 L337.5 235.9 L336.1 243.0 L334.8 250.0" stroke-width="1.55"/>
<path d="M482.8 107.8 L488.5 110.7 L494.2 113.7 L499.7 117.1 L505.3 120.2 L510.8 123.5 L516.4 126.7 L522.1 129.7 L527.8 132.8" stroke-width="1.55"/>
<path d="M524.0 117.8 L522.1 124.9 L520.2 132.1 L518.4 139.3 L516.5 146.5" stroke-width="1.55"/>
<path d="M317.0 328.0 L322.3 325.2 L327.6 322.3 L332.7 319.2 L337.8 316.1 L343.0 313.1 L348.2 309.9 L353.3 306.8 L358.5 303.9 L363.8 301.1 L369.0 298.0 L374.2 295.0 L379.5 292.2 L384.6 289.1 L389.8 286.0 L395.0 283.1 L400.3 280.3 L405.5 277.3 L410.8 274.4 L416.1 271.5 L421.3 268.5 L426.4 265.4 L431.5 262.3 L436.7 259.3 L441.8 256.2 L447.0 253.1 L452.3 250.2 L457.5 247.3 L462.7 244.3 L467.9 241.3 L473.1 238.3 L478.3 235.3 L483.4 232.2 L488.7 229.4 L494.0 226.5 L499.2 223.6 L504.5 220.7 L509.8 217.8 L514.9 214.7 L520.0 211.5" stroke-width="1.55"/>
<path d="M299.8 298.0 L305.2 301.1 L310.7 304.2 L316.2 307.3 L321.7 310.3 L327.2 313.4 L332.6 316.6 L338.0 319.9 L343.5 323.0" stroke-width="1.55"/>
<path d="M339.0 303.0 L337.1 310.0 L335.7 317.0 L334.1 324.1 L332.0 331.0" stroke-width="1.55"/>
<path d="M474.0 196.5 L479.4 199.3 L484.8 202.0 L490.0 205.2 L495.3 208.2 L500.5 211.3 L505.8 214.3 L511.2 217.1 L516.5 220.0" stroke-width="1.55"/>
<path d="M514.0 202.8 L512.6 210.0 L511.2 217.2 L509.5 224.3 L507.8 231.5" stroke-width="1.55"/>
<path d="M545.0 490.0 L550.3 487.1 L555.7 484.4 L561.0 481.5 L566.4 478.7 L571.7 475.7 L576.9 472.7 L582.3 469.9 L587.6 467.1 L593.0 464.3 L598.4 461.7 L603.8 458.9 L609.1 456.0 L614.4 453.1 L619.7 450.1 L624.9 447.1 L630.3 444.4 L635.6 441.5 L641.0 438.8 L646.4 436.0 L651.7 433.1 L657.0 430.2 L662.3 427.2 L667.5 424.2 L672.9 421.4 L678.3 418.7 L683.6 415.9 L689.1 413.2 L694.4 410.4 L699.7 407.5 L705.0 404.6 L710.3 401.7 L715.6 398.8 L721.0 396.0 L726.6 398.5 L732.1 401.3 L737.5 404.1 L743.1 406.8 L748.7 409.2 L754.2 412.1 L759.6 414.9 L765.0 417.8 L770.6 420.4 L776.2 422.9 L781.7 425.7 L787.2 428.4 L792.8 431.0 L797.9 434.2 L803.1 437.4 L808.2 440.7 L813.2 444.2 L818.3 447.5 L823.4 450.8 L828.5 454.1 L833.7 457.3 L838.7 460.7 L843.8 464.1 L849.0 467.2" stroke-width="1.45"/>
<path d="M545.0 490.0 L543.8 501.2" stroke-width="1.45"/>
<path d="M545.0 490.0 L550.7 493.1 L556.5 495.8 L562.3 498.5 L568.1 501.5 L573.7 504.5 L579.4 507.6 L585.1 510.7 L590.7 513.7 L596.5 516.6 L602.3 519.4 L608.0 522.4 L613.7 525.4 L619.5 528.2 L624.7 525.2 L630.0 522.3 L635.3 519.5 L640.5 516.5 L645.8 513.7 L651.2 510.9 L656.4 507.8 L661.6 504.9 L666.9 501.9 L672.0 498.8 L677.2 495.8 L682.5 492.9 L687.7 489.8 L693.0 487.0 L698.3 484.1 L703.4 481.0 L708.7 478.0 L713.9 475.1 L719.1 471.9 L724.4 469.1 L729.7 466.2 L734.9 463.3 L740.3 460.6 L745.6 457.7 L750.8 454.7 L756.1 451.8 L761.3 448.8 L766.5 445.7 L771.8 442.9 L777.1 440.0 L782.3 437.0 L787.6 434.1 L792.8 431.0" stroke-width="1.45"/>
<path d="M619.5 528.2 L619.4 536.4 L619.0 544.5" stroke-width="1.45"/>
<path d="M543.8 500.5 L549.0 503.8 L554.3 507.0 L559.7 510.2 L565.1 513.3 L570.5 516.3 L575.8 519.6 L581.1 522.9 L586.4 526.1 L591.8 529.2 L597.3 532.2 L602.7 535.3 L608.0 538.5 L613.3 541.7 L618.6 545.0 L623.9 548.4 L629.5 551.4 L635.1 554.4 L640.6 557.6 L646.0 560.8 L651.5 563.9 L657.0 567.0 L662.6 570.0 L668.0 573.2" stroke-width="1.45"/>
<path d="M619.5 528.2 L624.0 532.3 L628.6 536.3 L633.2 540.3 L637.6 544.5 L642.1 548.6 L646.6 552.7 L651.2 556.7 L655.8 560.7 L660.3 564.7 L664.8 568.8 L669.4 572.8" stroke-width="1.45"/>
<path d="M535.0 503.8 L543.8 501.0" stroke-width="1.45"/>
<path d="M535.0 503.8 L540.3 506.8 L545.6 510.0 L550.9 513.1 L556.3 516.1 L561.7 519.1 L567.0 522.3 L572.4 525.3 L577.7 528.3 L583.0 531.6 L588.2 534.9 L593.5 538.0 L598.8 541.1 L604.1 544.4 L609.4 547.4 L614.8 550.4 L620.2 553.5 L625.5 556.6 L630.8 559.7 L636.2 562.7 L641.5 565.9 L646.8 569.1 L652.2 572.0 L657.6 575.0 L662.8 578.2 L668.1 581.4" stroke-width="1.45"/>
<path d="M535.5 512.5 L540.8 515.6 L546.1 518.7 L551.5 521.6 L556.9 524.6 L562.1 527.8 L567.4 531.0 L572.6 534.2 L577.9 537.4 L583.1 540.7 L588.4 543.7 L593.8 546.7 L599.1 549.8 L604.4 552.8 L609.8 555.8 L615.2 558.8 L620.4 562.0 L625.7 565.2 L631.0 568.2 L636.3 571.3 L641.6 574.5 L646.9 577.6 L652.2 580.7 L657.5 583.9 L662.7 587.0 L668.1 590.0" stroke-width="1.45"/>
<path d="M535.0 503.8 L535.2 510.0 L535.1 516.2 L535.0 522.5 L534.8 528.7 L534.8 534.9 L534.8 541.2 L535.0 547.4 L534.9 553.6 L534.9 559.9 L534.8 566.1 L534.8 572.4 L534.8 578.6 L535.0 584.8 L535.2 591.1 L535.3 597.3 L535.2 603.5 L535.2 609.8 L535.0 616.0 L535.0 622.2 L542.5 626.0 L547.9 629.1 L553.5 632.0 L558.9 635.2 L564.3 638.3 L569.7 641.4 L575.2 644.5 L580.7 647.5 L586.1 650.6 L591.4 653.9 L596.7 657.2 L602.1 660.3 L607.6 663.3 L613.1 666.3 L618.6 669.4 L624.0 672.5 L629.4 675.6 L634.9 678.7 L640.4 681.6 L645.9 684.6 L651.3 687.8 L656.7 691.0 L662.0 694.3 L667.5 697.2" stroke-width="1.45"/>
<path d="M535.0 611.0 L540.3 614.0 L545.6 617.0 L550.8 620.1 L556.1 623.0 L561.5 625.7 L566.9 628.5 L572.2 631.5 L577.5 634.4 L582.7 637.6 L587.9 640.7 L593.2 643.6 L598.6 646.4 L603.9 649.3 L609.2 652.3 L614.5 655.3 L619.7 658.4 L625.0 661.3 L630.5 664.0 L635.8 666.8 L641.1 669.8 L646.4 672.8 L651.6 676.0 L656.8 679.1 L662.1 681.9 L667.5 684.8" stroke-width="1.45"/>
<path d="M542.5 626.0 L542.5 633.5 L542.5 641.0 L547.9 644.1 L553.3 647.2 L558.7 650.3 L564.1 653.4 L569.7 656.2 L575.1 659.2 L580.5 662.3 L586.0 665.3 L591.4 668.3 L597.0 671.2 L602.3 674.4 L607.8 677.4 L613.2 680.5 L618.7 683.5 L624.1 686.5 L629.4 689.8 L634.9 692.8 L640.3 695.8 L645.8 698.8 L651.2 701.9 L656.5 705.2 L662.0 708.1 L667.5 711.0" stroke-width="1.45"/>
<path d="M668.8 573.0 L668.8 579.1 L668.8 585.2 L668.6 591.2 L668.4 597.3 L668.4 603.4 L668.7 609.5 L668.8 615.6 L668.9 621.7 L668.9 627.8 L669.0 633.8 L668.8 639.9 L668.6 646.0 L668.6 652.1 L668.7 658.2 L668.7 664.2 L668.7 670.3 L668.9 676.4 L668.9 682.5 L668.7 688.6 L668.6 694.7 L668.7 700.8 L668.7 706.8 L668.7 712.9 L668.8 719.0" stroke-width="1.45"/>
<path d="M673.2 575.9 L673.2 582.2 L673.1 588.4 L673.0 594.7 L672.9 600.9 L673.1 607.2 L673.2 613.4 L673.2 619.7 L673.3 625.9 L673.2 632.2 L673.1 638.4 L673.2 644.7 L673.2 651.0 L673.4 657.2 L673.4 663.5 L673.4 669.7 L673.4 676.0 L673.2 682.2 L673.1 688.5 L673.2 694.7 L673.2 701.0 L673.2 707.2 L673.2 713.5 L673.2 719.8" stroke-width="1.45"/>
<path d="M668.8 719.0 L673.2 719.8" stroke-width="1.45"/>
<path d="M669.4 572.8 L674.7 569.6 L680.0 566.5 L685.4 563.6 L690.8 560.7 L696.2 557.7 L701.5 554.5 L706.8 551.4 L712.1 548.3 L717.5 545.3 L723.0 542.4 L728.3 539.3 L733.6 536.2 L738.8 532.9 L744.1 529.8 L749.5 526.8 L754.9 523.8 L760.3 520.8 L765.6 517.7 L770.8 514.5 L776.1 511.3 L781.5 508.3 L786.9 505.4 L792.3 502.5 L797.7 499.5 L803.0 496.3 L808.3 493.2 L813.6 490.1 L819.1 487.2 L824.5 484.3 L829.8 481.2 L835.1 478.1 L840.3 474.8 L845.7 471.7 L851.0 468.7 L856.4 465.7 L861.8 462.6 L866.6 465.2 L866.5 471.4 L866.5 477.6 L866.7 483.8 L866.7 490.0 L866.6 496.2 L866.6 502.5 L866.5 508.7 L866.3 514.9 L866.4 521.1 L866.6 527.3 L866.7 533.5 L866.8 539.7 L866.9 545.9 L866.8 552.1 L866.5 558.3 L866.4 564.5 L866.3 570.7 L866.3 577.0 L866.6 583.2 L866.8 589.4 L866.8 595.6 L866.7 601.8 L866.6 608.0 L861.3 610.9 L856.1 614.0 L851.0 617.2 L845.8 620.3 L840.5 623.2 L835.3 626.1 L830.0 629.2 L824.9 632.3 L819.7 635.4 L814.3 638.2 L809.0 641.1 L803.9 644.2 L798.7 647.3 L793.4 650.3 L788.1 653.2 L782.8 656.1 L777.6 659.2 L772.5 662.4 L767.3 665.4 L762.0 668.3 L756.7 671.3 L751.6 674.4 L746.4 677.5 L741.2 680.6 L736.0 683.6 L730.7 686.5 L725.5 689.6 L720.4 692.8 L715.1 695.8 L709.8 698.7 L704.6 701.6 L699.3 704.6 L694.2 707.8 L689.0 710.8 L683.6 713.6 L678.3 716.6 L673.2 719.8" stroke-width="1.45"/>
<path d="M673.2 575.9 L678.6 573.0 L683.9 570.0 L689.1 566.7 L694.4 563.5 L699.7 560.5 L705.1 557.5 L710.4 554.5 L715.7 551.3 L720.9 548.2 L726.3 545.2 L731.7 542.3 L737.1 539.4 L742.4 536.3 L747.6 533.1 L752.9 530.0 L758.3 527.1 L763.7 524.1 L768.9 520.9 L774.1 517.7 L779.4 514.6 L784.8 511.6 L790.1 508.6 L795.4 505.5 L800.6 502.3 L805.9 499.2 L811.3 496.3 L816.7 493.4 L822.0 490.4 L827.3 487.2 L832.6 484.1 L838.0 481.2 L843.4 478.3 L848.6 475.1 L853.9 471.9 L859.2 468.8 L864.5 465.8" stroke-width="1.45"/>
<path d="M827.0 491.0 L826.9 497.0 L826.8 503.1 L826.7 509.1 L826.7 515.2 L826.9 521.2 L827.0 527.3 L827.0 533.3 L827.0 539.3 L827.0 545.4 L826.9 551.4 L826.9 557.5 L827.1 563.5 L827.3 569.6 L827.3 575.6 L827.3 581.7 L827.2 587.7 L827.1 593.7 L827.0 599.8 L826.9 605.8 L827.0 611.9 L827.1 617.9 L827.0 624.0 L827.0 630.0" stroke-width="1.45"/>
<path d="M685.8 587.0 L691.0 584.0 L696.2 580.9 L701.4 577.9 L706.6 574.9 L711.9 572.1 L717.3 569.4 L722.5 566.4 L727.7 563.3 L732.8 560.2 L738.0 557.2 L743.4 554.4 L748.6 551.5 L753.8 548.4 L759.0 545.3 L764.1 542.1 L769.3 539.1 L774.6 536.3 L779.9 533.4 L785.1 530.3 L790.3 527.3 L795.4 524.1 L800.7 521.3 L806.1 518.5 L811.3 515.6 L816.5 512.5 L816.3 518.5 L816.3 524.5 L816.4 530.5 L816.5 536.5 L816.7 542.5 L816.8 548.5 L816.7 554.5 L816.6 560.5 L816.5 566.5 L816.4 572.5 L816.4 578.5 L816.5 584.5 L816.5 590.5 L816.5 596.5 L816.5 602.5 L816.4 608.5 L816.3 614.5 L816.5 620.5 L811.4 623.7 L806.1 626.6 L800.8 629.4 L795.6 632.4 L790.3 635.4 L785.0 638.3 L779.8 641.2 L774.6 644.3 L769.3 647.2 L764.0 650.0 L758.8 653.0 L753.5 656.0 L748.3 659.0 L743.1 662.0 L738.0 665.2 L732.8 668.3 L727.6 671.2 L722.3 674.2 L717.0 677.1 L711.7 679.9 L706.3 682.7 L701.1 685.6 L695.9 688.7 L690.7 691.7 L685.5 694.8 L685.3 688.4 L685.4 682.1 L685.7 675.7 L685.7 669.4 L685.6 663.1 L685.7 656.7 L685.7 650.4 L685.8 644.0 L685.9 637.7 L685.7 631.4 L685.4 625.0 L685.4 618.7 L685.4 612.4 L685.6 606.0 L685.9 599.7 L685.9 593.3 L685.8 587.0" stroke-width="1.45"/>
<path d="M699.0 601.5 L704.3 598.6 L709.5 595.6 L714.7 592.6 L719.9 589.5 L725.0 586.2 L730.2 583.3 L735.6 580.6 L740.8 577.5 L746.0 574.4 L751.2 571.4 L756.4 568.4 L761.7 565.5 L767.1 562.8 L772.3 559.7 L777.4 556.5 L782.6 553.5 L787.8 550.5 L793.1 547.6 L798.3 544.6 L803.5 541.5 L803.4 547.9 L803.4 554.2 L803.5 560.5 L803.5 566.9 L803.6 573.2 L803.7 579.6 L803.5 586.0 L803.3 592.3 L803.3 598.6 L803.5 605.0 L798.2 608.0 L793.1 611.2 L787.9 614.3 L782.6 617.3 L777.3 620.3 L772.0 623.2 L766.8 626.3 L761.6 629.5 L756.5 632.7 L751.3 635.7 L745.9 638.6 L740.6 641.6 L735.3 644.4 L730.1 647.6 L724.9 650.7 L719.7 653.9 L714.5 656.9 L709.2 659.8 L703.9 662.9 L698.8 666.0 L698.7 659.5 L698.7 653.1 L698.7 646.6 L698.8 640.2 L698.9 633.8 L698.8 627.3 L698.6 620.8 L698.8 614.4 L699.1 608.0 L699.0 601.5" stroke-width="1.45"/>
<path d="M630.0 456.8 L635.5 453.8 L641.0 450.7 L646.6 447.8 L652.2 445.1 L657.9 442.4 L663.5 439.5 L669.0 436.6 L674.5 433.5 L680.9 436.8 L687.3 440.3 L693.8 443.5 L688.4 446.6 L682.9 449.6 L677.4 452.5 L671.9 455.4 L666.5 458.5 L661.0 461.5 L655.5 464.4 L650.0 467.2 L643.4 463.7 L636.6 460.3 L630.0 456.8" stroke-width="1.45"/>
<path d="M652.5 455.5 L659.3 452.4 L665.9 449.1 L672.5 445.5" stroke-width="1.45"/>
<path d="M630.0 456.8 L637.5 456.4 L645.0 456.2 L652.5 455.5 L650.0 467.2" stroke-width="1.45"/>
<path d="M674.5 433.5 L672.5 445.5 L679.6 444.6 L686.6 443.9 L693.8 443.5" stroke-width="1.45"/>
<path d="M601.8 652.0 L601.8 655.5" stroke-width="1.45"/>
<path d="M562.5 516.5 L566.0 518.2" stroke-width="1.45"/>
<path d="M644.0 563.5 L647.0 562.3" stroke-width="1.45"/>
<path d="M490.0 491.0 L495.4 488.0 L500.8 485.0 L506.2 481.8 L511.4 478.5 L516.8 475.3 L522.1 472.0 L527.4 468.9 L532.9 466.0 L538.3 462.9 L543.8 460.0 L549.2 456.9 L554.5 453.7 L559.9 450.6 L565.2 447.4 L570.5 444.1 L575.9 441.1 L581.2 438.0" stroke-width="1.5"/>
<path d="M598.8 428.0 L604.3 425.0 L609.7 422.0 L615.1 418.7 L620.5 415.5 L625.8 412.2 L631.2 409.0 L636.6 405.8 L642.1 402.7 L647.5 399.6 L652.8 396.3 L658.2 393.1 L663.7 390.0 L669.2 387.0 L674.7 384.0 L680.2 381.0 L685.6 377.8 L690.9 374.5 L696.2 371.2 L701.6 368.0 L707.0 364.8 L712.5 361.8" stroke-width="1.5"/>
<path d="M490.0 474.8 L496.2 478.5 L502.4 482.5 L508.6 486.2 L515.0 489.8" stroke-width="1.5"/>
<path d="M657.0 359.0 L662.7 362.5 L668.5 365.9 L674.3 369.1 L680.1 372.3 L686.0 375.6 L691.7 379.0 L697.5 382.2" stroke-width="1.5"/>
<path d="M877.8 446.0 L883.7 442.6 L889.5 439.1 L895.4 435.8 L901.3 432.3 L907.3 429.2 L913.2 425.7 L919.0 422.2" stroke-width="1.3"/>
<path d="M886.5 451.5 L892.3 447.9 L898.3 444.5 L904.2 441.1 L910.1 437.8 L916.0 434.3 L921.8 430.7 L927.8 427.2" stroke-width="1.3"/>
<path d="M891.5 417.2 L897.3 420.6 L903.1 423.8 L908.8 427.1 L914.7 430.3 L920.6 433.3 L926.3 436.7 L931.9 440.3 L937.8 443.5" stroke-width="1.3"/>
<path d="M914.0 412.2 L913.9 418.3 L913.8 424.4 L913.8 430.5 L913.9 436.6 L914.1 442.6 L914.1 448.7 L914.2 454.8 L914.1 460.9 L914.1 466.9 L914.2 473.0 L914.3 479.1 L914.2 485.2 L914.0 491.2" stroke-width="1.3"/>
<path d="M914.0 532.5 L914.0 539.0 L913.8 545.5 L913.8 551.9 L913.8 558.4 L914.0 564.9 L914.2 571.4 L914.2 577.8 L914.3 584.3 L914.1 590.8 L914.1 597.3 L914.0 603.8" stroke-width="1.3"/>
<path d="M887.0 601.2 L892.5 597.4 L898.1 593.7 L903.8 590.1 L909.4 586.5 L915.0 582.7 L920.5 578.9 L926.0 575.0" stroke-width="1.3"/>
<path d="M946.5 645.0 L941.1 647.8 L935.7 650.5 L930.3 653.3 L925.1 656.4 L919.7 659.2 L914.3 662.0 L908.9 664.8 L903.6 667.7 L898.3 670.6 L893.0 673.6 L887.7 676.4 L882.2 679.1 L876.8 681.8 L871.5 684.8" stroke-width="1.25"/>
<path d="M819.5 713.5 L814.1 716.5 L808.5 719.4 L803.1 722.4 L797.6 725.5 L792.2 728.6 L786.9 731.7 L781.4 734.7 L775.9 737.6 L770.4 740.6 L765.0 743.7 L759.6 746.9 L754.3 750.1 L748.8 753.0 L743.3 755.9 L737.8 758.9 L732.4 761.9 L727.0 765.1 L721.5 768.0" stroke-width="1.25"/>
<path d="M902.8 637.0 L908.5 640.5 L914.1 644.0 L920.0 647.2 L925.8 650.4 L931.7 653.7 L937.5 657.0 L943.2 660.5 L949.0 663.8" stroke-width="1.25"/>
<path d="M704.0 742.2 L709.8 745.4 L715.6 748.6 L721.3 751.9 L727.0 755.2 L732.6 758.6 L738.4 761.8 L744.2 764.9 L750.0 768.0" stroke-width="1.25"/>
<path d="M484.5 629.5 L489.7 632.7 L494.8 635.8 L500.2 638.7 L505.4 641.7 L510.6 644.9 L515.8 647.9 L520.9 651.2 L526.0 654.4 L531.2 657.5" stroke-width="1.25"/>
<path d="M590.0 692.2 L595.4 695.7 L600.9 698.9 L606.3 702.2 L611.9 705.4 L617.5 708.4 L623.0 711.6 L628.4 715.0 L633.9 718.3 L639.3 721.7 L644.7 725.1 L650.2 728.3 L655.8 731.5 L661.2 734.8" stroke-width="1.25"/>
<path d="M472.0 654.5 L477.3 651.7 L482.6 648.9 L488.0 646.1 L493.3 643.4 L498.7 640.7 L504.1 638.0 L509.4 635.2 L514.7 632.4 L520.0 629.5" stroke-width="1.25"/>
<path d="M611.2 746.0 L616.7 743.3 L622.0 740.3 L627.4 737.3 L632.9 734.6 L638.2 731.7 L643.7 729.0 L649.2 726.2 L654.5 723.2 L660.0 720.5" stroke-width="1.25"/>
</g>
</g>
<g filter="url(#tb)">
<text transform="translate(366.5 192) scale(0.815 1)" font-size="30.5" fill="#444" stroke="#444" stroke-width="0.8" vector-effect="non-scaling-stroke" stroke-linejoin="round" letter-spacing="2.5">600</text>
<text transform="translate(408 300.5) scale(0.815 1)" font-size="30.5" fill="#444" stroke="#444" stroke-width="0.8" vector-effect="non-scaling-stroke" stroke-linejoin="round" letter-spacing="2.5">560</text>
<text transform="translate(223.5 403.5) scale(0.815 1)" font-size="30.5" fill="#444" stroke="#444" stroke-width="0.8" vector-effect="non-scaling-stroke" stroke-linejoin="round" letter-spacing="2.5">380</text>
<text transform="translate(549.8 431.3) scale(0.785 1)" font-size="30.5" fill="#444" stroke="#444" stroke-width="0.8" vector-effect="non-scaling-stroke" stroke-linejoin="round" letter-spacing="2.5">461</text>
<text transform="translate(867.3 412.5) scale(0.82 1)" font-size="30" fill="#444" stroke="#444" stroke-width="0.8" vector-effect="non-scaling-stroke" stroke-linejoin="round" letter-spacing="2.5">20</text>
<text transform="translate(100.8 447.5) scale(0.88 1)" font-size="29" fill="#444" stroke="#444" stroke-width="0.35" vector-effect="non-scaling-stroke" stroke-linejoin="round" letter-spacing="1.8">min.</text>
<text transform="translate(152.5 448.5) scale(0.78 1)" font-size="32" fill="#111" stroke="#111" stroke-width="0.2" vector-effect="non-scaling-stroke" stroke-linejoin="round" letter-spacing="0" font-weight="bold">550</text>
<text transform="translate(889.5 527.5) scale(0.79 1)" font-size="33" fill="#111" stroke="#111" stroke-width="0.2" vector-effect="non-scaling-stroke" stroke-linejoin="round" letter-spacing="0" font-weight="bold">382</text>
<text transform="translate(540.5 691) scale(0.79 1)" font-size="33" fill="#111" stroke="#111" stroke-width="0.2" vector-effect="non-scaling-stroke" stroke-linejoin="round" letter-spacing="0" font-weight="bold">333</text>
<text transform="translate(832.5 707.9) scale(0.78 1)" font-size="33" fill="#111" stroke="#111" stroke-width="0.2" vector-effect="non-scaling-stroke" stroke-linejoin="round" letter-spacing="0" font-weight="bold">594</text>
</g>
</svg>
</body></html>
